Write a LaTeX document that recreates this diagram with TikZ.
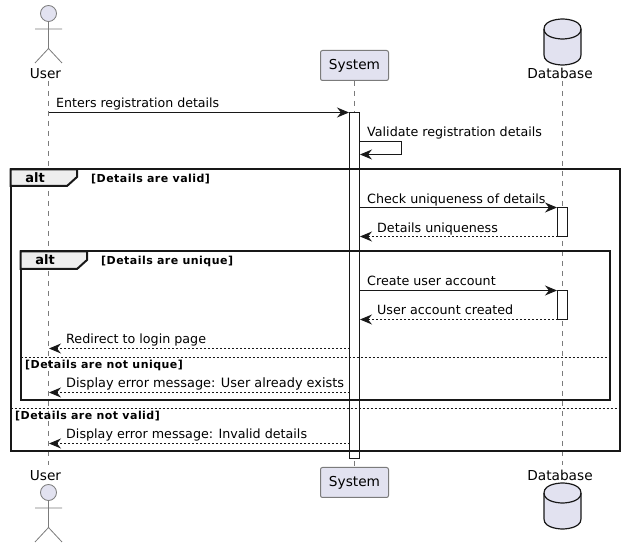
\documentclass[tikz,border=0pt]{standalone}
\usepackage{fontspec}
\setmainfont{DejaVu Sans}
\usetikzlibrary{arrows.meta}
\definecolor{partfill}{HTML}{E2E2F0}
\definecolor{partline}{HTML}{7B7B7B}
\definecolor{tabfill}{HTML}{EEEEEE}
\definecolor{inkline}{HTML}{181818}
\tikzset{
  lifeline/.style={partline,line width=0.8pt,dash pattern=on 5pt off 5pt},
  msg/.style={inkline,line width=1pt,-{Stealth[length=12pt,width=10pt,inset=4pt]}},
  msgback/.style={msg,dash pattern=on 2pt off 2pt},
  msgtext/.style={anchor=base west,inner sep=0pt,font=\fontsize{12.7}{15}\selectfont},
  guardtext/.style={anchor=base west,inner sep=0pt,font=\fontsize{11}{13}\selectfont\bfseries\addfontfeatures{LetterSpace=4.2}},
  alttext/.style={anchor=base,inner sep=0pt,font=\fontsize{13}{15}\selectfont\bfseries},
  parttext/.style={anchor=base,inner sep=0pt,font=\fontsize{13.7}{16}\selectfont},
  partbox/.style={draw=partline,fill=partfill,rounded corners=2pt,line width=1pt,minimum width=68pt,minimum height=30pt,inner sep=0pt,font=\fontsize{13.7}{16}\selectfont},
  actbar/.style={draw=inkline,fill=white,line width=1pt},
  framebox/.style={draw=inkline,line width=2pt},
  tabbox/.style={draw=inkline,fill=tabfill,line width=2pt},
  splitline/.style={inkline,line width=1pt,dash pattern=on 2pt off 2pt},
  actorpic/.pic={
    \draw[partline,fill=partfill,line width=0.8pt] (0,-8) circle [radius=8];
    \draw[partline,line width=0.8pt] (0,0) -- (0,27) (-13.5,7.5) -- (13.5,7.5)
      (-13.5,41.5) -- (0,27) -- (13.5,41.5);
  },
  dbpic/.pic={
    \draw[inkline,fill=partfill,line width=1.2pt] (-18.5,10) .. controls (-18.5,0) and (0,0) .. (0,0)
      .. controls (0,0) and (18.5,0) .. (18.5,10) -- (18.5,36)
      .. controls (18.5,46) and (0,46) .. (0,46) .. controls (0,46) and (-18.5,46) .. (-18.5,36) -- cycle;
    \draw[inkline,line width=1.2pt] (-18.5,10) .. controls (-18.5,20) and (0,20) .. (0,20)
      .. controls (0,20) and (18.5,20) .. (18.5,10);
  }
}
\begin{document}
\begin{tikzpicture}[x=1pt,y=-1pt]
  \useasboundingbox (0,0) rectangle (625,548);
  % participants
  \pic at (48.5,21.5) {actorpic};
  \node[parttext] (usertop) at (45.5,79) {User};
  \node[parttext] (userbot) at (45.5,481) {User};
  \pic at (48.5,500.5) {actorpic};
  \node[partbox] (systop) at (354.5,65.5) {\raisebox{-1.5pt}{System}};
  \node[partbox] (sysbot) at (354.5,482.5) {\raisebox{-1.5pt}{System}};
  \pic at (562.5,19) {dbpic};
  \node[parttext] (dbtop) at (560,79) {Database};
  \node[parttext] (dbbot) at (560,481) {Database};
  \pic at (562.5,483) {dbpic};
  % lifelines
  \coordinate (userup) at (48.5,81);
  \coordinate (userdown) at (48.5,465);
  \coordinate (dbup) at (562.5,81);
  \coordinate (dbdown) at (562.5,465);
  \draw[lifeline] (userup) -- (userdown);
  \draw[lifeline] (systop.south) -- (sysbot.north);
  \draw[lifeline] (dbup) -- (dbdown);
  % activations
  \draw[actbar] (349.5,112.5) rectangle (359.5,458.5);
  \draw[actbar] (557.5,207.5) rectangle (567.5,236.5);
  \draw[actbar] (557.5,290.5) rectangle (567.5,319.5);
  % frames
  \draw[framebox] (10.5,169.5) rectangle (619.5,451.5);
  \draw[tabbox] (10.5,169.5) -- (77,169.5) -- (77,177) -- (67,186) -- (10.5,186) -- cycle;
  \node[alttext] (altouter) at (35,183) {alt};
  \node[guardtext] (guardvalid) at (91,183) {[Details are valid]};
  \draw[framebox] (20.5,251.5) rectangle (609.5,400.5);
  \draw[tabbox] (20.5,251.5) -- (87,251.5) -- (87,260) -- (77,269) -- (20.5,269) -- cycle;
  \node[alttext] (altinner) at (45,265) {alt};
  \node[guardtext] (guardunique) at (101,265) {[Details are unique]};
  \coordinate (innerl) at (20.5,357.5);
  \coordinate (innerr) at (609.5,357.5);
  \coordinate (outerl) at (10.5,408.5);
  \coordinate (outerr) at (619.5,408.5);
  \draw[splitline] (innerl) -- (innerr);
  \draw[splitline] (outerl) -- (outerr);
  \node[guardtext] (guardnotunique) at (25,369) {[Details are not unique]};
  \node[guardtext] (guardnotvalid) at (15,420) {[Details are not valid]};
  % messages
  \coordinate (a1) at (48.5,112.5);
  \coordinate (b1) at (349,112.5);
  \draw[msg] (a1) -- (b1);
  \node[msgtext,font=\fontsize{12.6}{15}\selectfont] (enters) at (56,107.5) {Enters registration details};
  \coordinate (s1) at (359.5,141.5);
  \coordinate (s2) at (401.5,141.5);
  \coordinate (s3) at (401.5,154.5);
  \coordinate (s4) at (360,154.5);
  \draw[msg] (s1) -- (s2) -- (s3) -- (s4);
  \node[msgtext] (validate) at (367,136.5) {Validate registration details};
  \coordinate (c1) at (359.5,207.5);
  \coordinate (c2) at (557,207.5);
  \draw[msg] (c1) -- (c2);
  \node[msgtext] (check) at (367,203.5) {Check uniqueness of details};
  \coordinate (c3) at (557.5,236.5);
  \coordinate (c4) at (360,236.5);
  \draw[msgback] (c3) -- (c4);
  \node[msgtext] (uniq) at (377,232.5) {Details uniqueness};
  \coordinate (d1) at (359.5,290.5);
  \coordinate (d2) at (557,290.5);
  \draw[msg] (d1) -- (d2);
  \node[msgtext] (create) at (367,285.5) {Create user account};
  \coordinate (d3) at (557.5,319.5);
  \coordinate (d4) at (360,319.5);
  \draw[msgback] (d3) -- (d4);
  \node[msgtext] (created) at (377,314.5) {User account created};
  \coordinate (e1) at (349.5,348.5);
  \coordinate (e2) at (49,348.5);
  \draw[msgback] (e1) -- (e2);
  \node[msgtext] (redirect) at (66,343.5) {Redirect to login page};
  \coordinate (f1) at (349.5,392.5);
  \coordinate (f2) at (49,392.5);
  \draw[msgback] (f1) -- (f2);
  \node[msgtext,font=\fontsize{12.9}{15}\selectfont] (exists) at (66,387.5) {Display error message: User already exists};
  \coordinate (g1) at (349.5,443.5);
  \coordinate (g2) at (49,443.5);
  \draw[msgback] (g1) -- (g2);
  \node[msgtext] (invalid) at (66,438.5) {Display error message: Invalid details};
\end{tikzpicture}
\end{document}
